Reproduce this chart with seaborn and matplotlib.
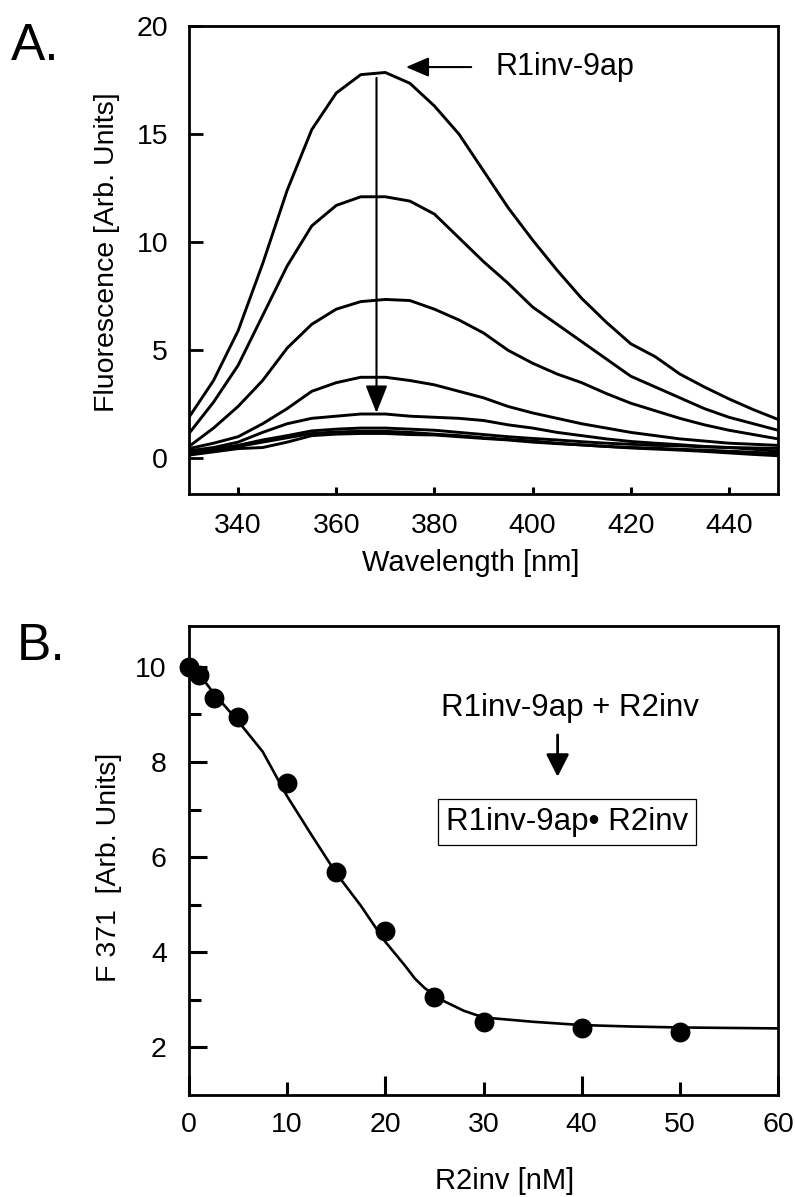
import numpy as np
import pandas as pd
import matplotlib
matplotlib.use("Agg")
import matplotlib.pyplot as plt
import seaborn as sns

# --- Panel A: emission spectra (titration, top to bottom) ---
wavelength = [330, 335, 340, 345, 350, 355, 360, 365, 370, 375, 380, 385, 390,
              395, 400, 405, 410, 415, 420, 425, 430, 435, 440, 445, 450]
spectrum_1 = [1.9, 3.6, 5.9, 9.0, 12.4, 15.2, 16.9, 17.75, 17.85, 17.35, 16.3, 15.0, 13.3,
              11.6, 10.1, 8.7, 7.4, 6.3, 5.3, 4.7, 3.9, 3.3, 2.75, 2.25, 1.8]
spectrum_2 = [1.15, 2.6, 4.3, 6.6, 8.9, 10.75, 11.7, 12.1, 12.1, 11.9, 11.3, 10.2, 9.1,
              8.1, 7.0, 6.2, 5.4, 4.6, 3.8, 3.3, 2.8, 2.3, 1.9, 1.6, 1.3]
spectrum_3 = [0.55, 1.4, 2.4, 3.6, 5.1, 6.2, 6.9, 7.25, 7.35, 7.3, 6.9, 6.4, 5.8,
              5.0, 4.4, 3.9, 3.5, 3.0, 2.55, 2.2, 1.85, 1.55, 1.3, 1.1, 0.9]
spectrum_4 = [0.45, 0.7, 1.0, 1.6, 2.3, 3.1, 3.5, 3.75, 3.75, 3.6, 3.4, 3.1, 2.8,
              2.4, 2.1, 1.85, 1.6, 1.4, 1.2, 1.05, 0.9, 0.8, 0.7, 0.65, 0.6]
spectrum_5 = [0.35, 0.5, 0.75, 1.2, 1.6, 1.85, 1.95, 2.05, 2.05, 1.95, 1.9, 1.85, 1.75,
              1.55, 1.4, 1.2, 1.05, 0.9, 0.78, 0.7, 0.63, 0.55, 0.5, 0.42, 0.33]
spectrum_6 = [0.3, 0.45, 0.6, 0.85, 1.05, 1.27, 1.35, 1.4, 1.4, 1.35, 1.3, 1.2, 1.1,
              1.0, 0.92, 0.85, 0.77, 0.7, 0.65, 0.6, 0.58, 0.53, 0.5, 0.48, 0.46]
spectrum_7 = [0.22, 0.35, 0.55, 0.75, 0.95, 1.15, 1.22, 1.25, 1.25, 1.2, 1.12, 1.05, 0.95,
              0.87, 0.8, 0.7, 0.62, 0.55, 0.5, 0.47, 0.42, 0.38, 0.33, 0.28, 0.23]
spectrum_8 = [0.15, 0.3, 0.45, 0.5, 0.75, 1.05, 1.12, 1.15, 1.15, 1.1, 1.08, 1.0, 0.92,
              0.85, 0.75, 0.68, 0.62, 0.55, 0.48, 0.43, 0.38, 0.32, 0.25, 0.18, 0.12]
spectra = [spectrum_1, spectrum_2, spectrum_3, spectrum_4,
           spectrum_5, spectrum_6, spectrum_7, spectrum_8]

# --- Panel B: F371 vs R2inv concentration ---
r2_conc = [0, 1, 2.5, 5, 10, 15, 20, 25, 30, 40, 50]
f371 = [10.0, 9.84, 9.35, 8.94, 7.55, 5.68, 4.44, 3.05, 2.53, 2.41, 2.32]
fit_conc = [0, 1, 2.5, 5, 7.5, 10, 12.5, 15, 17.5, 20, 22, 23, 24, 25, 26, 28, 30,
            35, 40, 45, 50, 55, 60]
fit_f371 = [9.98, 9.86, 9.45, 8.86, 8.22, 7.28, 6.46, 5.66, 4.98, 4.22, 3.72, 3.45,
            3.25, 3.1, 2.97, 2.77, 2.63, 2.54, 2.47, 2.44, 2.42, 2.41, 2.40]

sns.set_style("ticks")
plt.rcParams['font.family'] = ['Liberation Sans', 'DejaVu Sans']
plt.rcParams.update({'text.color': 'black', 'axes.labelcolor': 'black',
                     'xtick.color': 'black', 'ytick.color': 'black',
                     'axes.edgecolor': 'black', 'axes.linewidth': 2.0})

W, H = 795, 1197
fig = plt.figure(figsize=(W / 100, H / 100), dpi=100)
axA = fig.add_axes([189 / W, 1 - 494 / H, 589 / W, 468 / H])
axB = fig.add_axes([189 / W, 1 - 1095 / H, 589 / W, 469 / H])

# Panel A
long_df = pd.DataFrame({
    'wavelength': np.tile(wavelength, len(spectra)),
    'fluor': np.concatenate(spectra),
    'curve': np.repeat(np.arange(len(spectra)), len(wavelength)),
})
sns.lineplot(data=long_df, x='wavelength', y='fluor', units='curve', estimator=None,
             color='black', lw=2.1, ax=axA)
axA.set_xlim(330, 450)
axA.set_ylim(-1.65, 20)
axA.set_xticks([340, 360, 380, 400, 420, 440])
axA.set_yticks([0, 5, 10, 15, 20])
axA.tick_params(axis='y', direction='in', length=10, width=2, labelsize=20.5, pad=15)
axA.tick_params(axis='x', direction='in', length=5, width=2.2, labelsize=20.5, pad=14)
axA.set_xlabel('')
axA.set_ylabel('')
for s in axA.spines.values():
    s.set_visible(True)
    s.set_linewidth(2.0)

axA.annotate('', xy=(368.2, 2.1), xytext=(368.2, 17.6),
             arrowprops=dict(arrowstyle='-|>,head_length=0.68,head_width=0.27',
                             color='black', lw=1.5, mutation_scale=25,
                             shrinkA=0, shrinkB=0))
axA.annotate('', xy=(374.2, 18.1), xytext=(387.5, 18.1),
             arrowprops=dict(arrowstyle='-|>,head_length=0.7,head_width=0.3',
                             color='black', lw=1.5, mutation_scale=20,
                             shrinkA=0, shrinkB=0))
axA.text(392.5, 18.1, 'R1inv-9ap', fontsize=22, ha='left', va='center')

# Panel B
sns.lineplot(x=fit_conc, y=fit_f371, color='black', lw=1.9, ax=axB)
sns.scatterplot(x=r2_conc, y=f371, color='black', s=205, edgecolor='black',
                linewidth=0, zorder=3, clip_on=False, ax=axB)
axB.set_xlim(0, 60)
axB.set_ylim(1.0, 10.86)
axB.set_xticks([0, 20, 40, 60])
axB.set_xticks([10, 30, 50], labels=['10', '30', '50'], minor=True)
axB.set_yticks([2, 4, 6, 8, 10])
axB.set_yticks([3, 5, 7, 9], minor=True)
axB.tick_params(axis='x', which='major', direction='in', length=14, width=2.2,
                labelsize=20.5, pad=12)
axB.tick_params(axis='x', which='minor', direction='in', length=9.5, width=2.2,
                labelsize=20.5, pad=12)
axB.tick_params(axis='y', which='major', direction='in', length=13, width=2.2,
                labelsize=20.5, pad=16)
axB.tick_params(axis='y', which='minor', direction='in', length=8.5, width=2.2)
for s in axB.spines.values():
    s.set_visible(True)
    s.set_linewidth(2.0)

axB.text(38.8, 9.14, 'R1inv-9ap + R2inv', fontsize=22.5, ha='center', va='center')
axB.annotate('', xy=(37.55, 7.69), xytext=(37.55, 8.57),
             arrowprops=dict(arrowstyle='-|>,head_length=0.55,head_width=0.28',
                             color='black', lw=2.0, mutation_scale=25,
                             shrinkA=0, shrinkB=0))
axB.text(38.5, 6.74, 'R1inv-9ap\u2022 R2inv', fontsize=22.5, ha='center', va='center',
         bbox=dict(boxstyle='square,pad=0.25', fc='white', ec='black', lw=0.9))

# axis labels and panel letters
fig.text(107 / W, 1 - 252 / H, 'Fluorescence [Arb. Units]', rotation=90,
         ha='center', va='center', fontsize=20.5)
fig.text(471 / W, 1 - 563 / H, 'Wavelength [nm]', ha='center', va='center', fontsize=21)
fig.text(109 / W, 1 - 867 / H, 'F 371  [Arb. Units]', rotation=90,
         ha='center', va='center', fontsize=20.5)
fig.text(505 / W, 1 - 1181 / H, 'R2inv [nM]', ha='center', va='center', fontsize=21)
fig.text(35 / W, 1 - 47 / H, 'A.', ha='center', va='center', fontsize=37)
fig.text(41 / W, 1 - 647 / H, 'B.', ha='center', va='center', fontsize=37)

fig.savefig('out.png', dpi=100)
